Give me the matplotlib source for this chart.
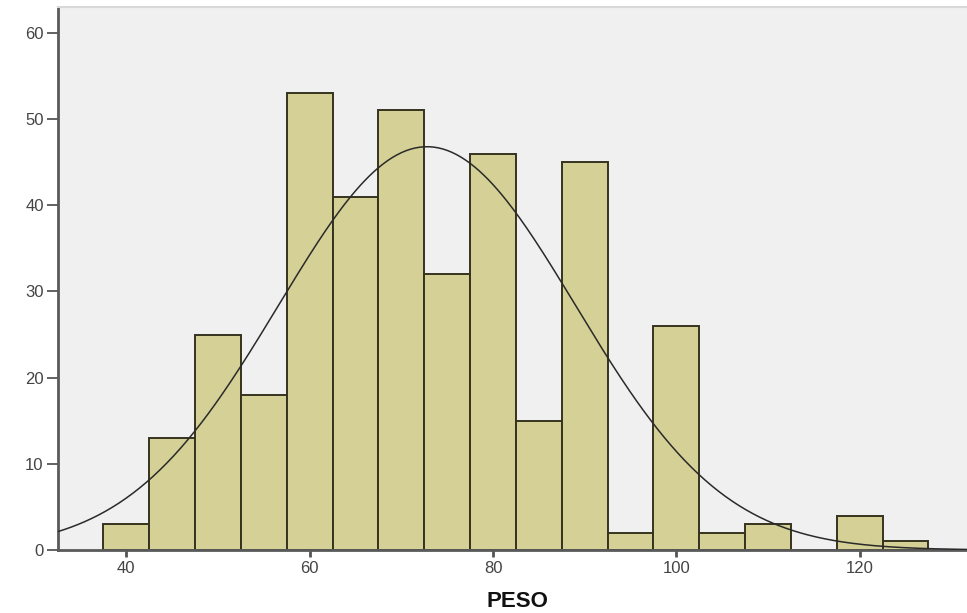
import matplotlib
matplotlib.use("Agg")
import matplotlib.pyplot as plt
import numpy as np

# Histograma de PESO con curva normal (estilo SPSS)
centros = [40, 45, 50, 55, 60, 65, 70, 75, 80, 85, 90, 95, 100, 105, 110, 115, 120, 125]
frecuencias = [3, 13, 25, 18, 53, 41, 51, 32, 46, 15, 45, 2, 26, 2, 3, 0, 4, 1]
ancho_clase = 5
media = 72.8
desv = 16.2
n_total = sum(frecuencias)

x_ticks = [40, 60, 80, 100, 120]
y_ticks = [0, 10, 20, 30, 40, 50, 60]

plt.rcParams['font.family'] = ['Liberation Sans', 'DejaVu Sans']

fig = plt.figure(figsize=(9.67, 6.13), dpi=100)
ax = fig.add_axes([0.0595, 0.1028, 0.9405, 0.8858])
ax.set_facecolor("#f0f0f0")

ax.bar(centros, frecuencias, width=ancho_clase, color="#d4d096",
       edgecolor="#35321f", linewidth=1.4, zorder=2)

# curva normal ajustada
xs = np.linspace(32.5, 131.7, 400)
ys = n_total * ancho_clase / (desv * np.sqrt(2 * np.pi)) * np.exp(-0.5 * ((xs - media) / desv) ** 2)
ax.plot(xs, ys, color="#2a2a2a", linewidth=1.1, zorder=3)

ax.set_xlim(32.5, 131.7)
ax.set_ylim(0, 63.0)
ax.set_xticks(x_ticks)
ax.set_yticks(y_ticks)
ax.tick_params(axis="y", length=8, width=1.3, color="#555555", labelsize=12,
               labelcolor="#444444", pad=2)
ax.tick_params(axis="x", length=5, width=2, color="#555555", labelsize=12,
               labelcolor="#444444", pad=3)

for lado in ["left", "bottom"]:
    ax.spines[lado].set_color("#5a5a5a")
    ax.spines[lado].set_linewidth(2)
ax.spines["top"].set_color("#d8d8d8")
ax.spines["top"].set_linewidth(1.5)
ax.spines["right"].set_visible(False)

fig.text(0.535, 0.018, "PESO", fontsize=16, fontweight="bold", color="#111111",
         ha="center", va="center")

fig.savefig("out.png", dpi=100)
